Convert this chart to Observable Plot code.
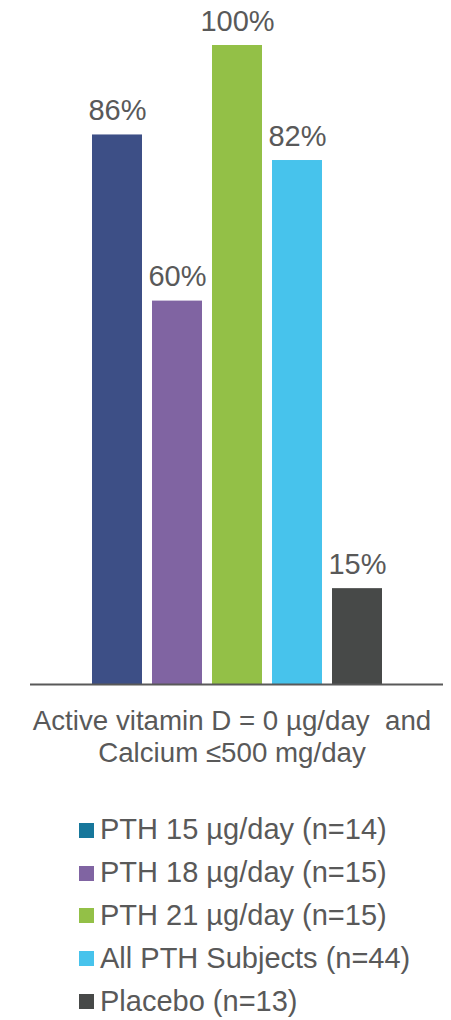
<!DOCTYPE html>
<html>
<head>
<meta charset="utf-8">
<script src="https://cdn.jsdelivr.net/npm/d3@7"></script>
<script src="https://cdn.jsdelivr.net/npm/@observablehq/plot@0.6"></script>
<style>
  html, body { margin: 0; padding: 0; background: #fff; }
  #wrap { position: relative; width: 451px; height: 1020px; overflow: hidden; font-family: "Liberation Sans", Arial, sans-serif; color: #595959; }
  #chart svg { display: block; }
  #legend { position: absolute; left: 79px; top: 809px; }
  .row { display: flex; align-items: center; height: 42.8px; font-size: 29px; line-height: 1.1; white-space: nowrap; }
  .sw { width: 15px; height: 15px; margin-right: 6px; }
</style>
</head>
<body>
<div id="wrap">
  <div id="chart"></div>
  <div id="legend"></div>
</div>
<script>
const series = ["PTH 15 µg/day (n=14)", "PTH 18 µg/day (n=15)", "PTH 21 µg/day (n=15)", "All PTH Subjects (n=44)", "Placebo (n=13)"];
const values = [86, 60, 100, 82, 15];
const labels = ["86%", "60%", "100%", "82%", "15%"];
const barColors = ["#3d4f86", "#8064a2", "#93c047", "#47c3ec", "#474948"];
const legendColors = ["#17779b", "#8064a2", "#93c047", "#47c3ec", "#474948"];
const category = "Active vitamin D = 0 µg/day  and\nCalcium ≤500 mg/day";

const data = series.map((s, i) => ({series: s, value: values[i], label: labels[i]}));

const chart = Plot.plot({
  width: 451,
  height: 780,
  marginTop: 45,
  marginBottom: 96,
  marginLeft: 30,
  marginRight: 8,
  style: {fontFamily: "'Liberation Sans', Arial, sans-serif", color: "#595959", background: "white"},
  x: {domain: series, paddingInner: 1/6, paddingOuter: 1.025, axis: null},
  y: {domain: [0, 100], axis: null},
  color: {domain: series, range: barColors},
  marks: [
    Plot.barY(data, {x: "series", y: "value", fill: "series"}),
    Plot.ruleY([0], {stroke: "#595959", strokeWidth: 2}),
    Plot.text(data, {x: "series", y: "value", text: "label", lineAnchor: "bottom", dy: -15, fontSize: 29, fill: "#595959"}),
    Plot.text([category], {text: d => d, frameAnchor: "bottom", lineAnchor: "top", dy: 23, dx: -5, fontSize: 27.7, lineHeight: 1.15, fill: "#595959"})
  ]
});
document.getElementById("chart").appendChild(chart);

const legend = document.getElementById("legend");
series.forEach((s, i) => {
  const row = document.createElement("div");
  row.className = "row";
  const sw = document.createElement("span");
  sw.className = "sw";
  sw.style.background = legendColors[i];
  const t = document.createElement("span");
  t.textContent = s;
  row.appendChild(sw);
  row.appendChild(t);
  legend.appendChild(row);
});
</script>
</body>
</html>
